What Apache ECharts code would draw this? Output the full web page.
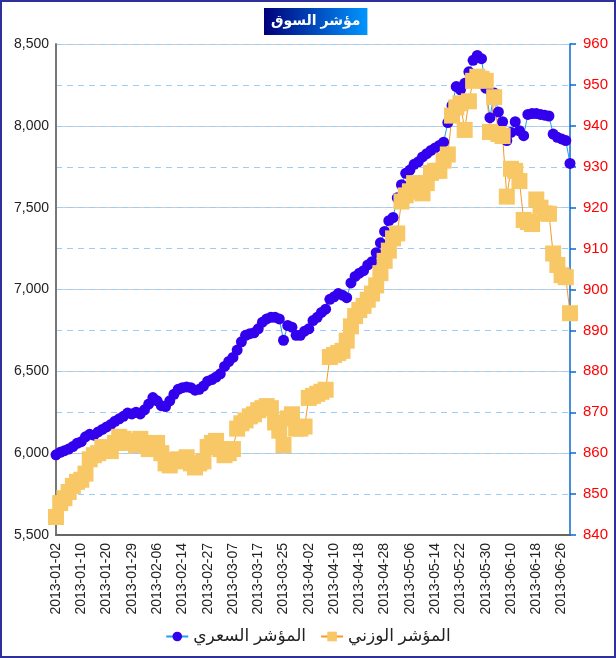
<!DOCTYPE html>
<html>
<head>
<meta charset="utf-8">
<script src="https://cdn.jsdelivr.net/npm/echarts@6.0.0/dist/echarts.min.js"></script>
<style>
  html, body { margin: 0; padding: 0; background: #fff; }
  #chartLine { width: 616px; height: 658px; }
</style>
</head>
<body>
<div id="chartLine"></div>
<script>
// trading days
var dates = [
  '2013-01-02','2013-01-03','2013-01-06','2013-01-07','2013-01-08','2013-01-09','2013-01-10',
  '2013-01-13','2013-01-14','2013-01-15','2013-01-16','2013-01-17','2013-01-20',
  '2013-01-21','2013-01-22','2013-01-23','2013-01-27','2013-01-28','2013-01-29',
  '2013-01-30','2013-01-31','2013-02-03','2013-02-04','2013-02-05','2013-02-06',
  '2013-02-07','2013-02-10','2013-02-11','2013-02-12','2013-02-13','2013-02-14',
  '2013-02-17','2013-02-18','2013-02-19','2013-02-20','2013-02-21','2013-02-27',
  '2013-02-28','2013-03-03','2013-03-04','2013-03-05','2013-03-06','2013-03-07',
  '2013-03-10','2013-03-11','2013-03-12','2013-03-13','2013-03-14','2013-03-17',
  '2013-03-18','2013-03-19','2013-03-20','2013-03-21','2013-03-24','2013-03-25',
  '2013-03-26','2013-03-27','2013-03-28','2013-03-31','2013-04-01','2013-04-02',
  '2013-04-03','2013-04-04','2013-04-07','2013-04-08','2013-04-09','2013-04-10',
  '2013-04-11','2013-04-14','2013-04-15','2013-04-16','2013-04-17','2013-04-18',
  '2013-04-21','2013-04-22','2013-04-23','2013-04-24','2013-04-25','2013-04-28',
  '2013-04-29','2013-04-30','2013-05-01','2013-05-02','2013-05-05','2013-05-06',
  '2013-05-07','2013-05-08','2013-05-09','2013-05-12','2013-05-13','2013-05-14',
  '2013-05-15','2013-05-16','2013-05-19','2013-05-20','2013-05-21','2013-05-22',
  '2013-05-23','2013-05-26','2013-05-27','2013-05-28','2013-05-29','2013-05-30',
  '2013-06-02','2013-06-03','2013-06-04','2013-06-05','2013-06-09','2013-06-10',
  '2013-06-11','2013-06-12','2013-06-13','2013-06-16','2013-06-17','2013-06-18',
  '2013-06-19','2013-06-20','2013-06-23','2013-06-24','2013-06-25','2013-06-26',
  '2013-06-27','2013-06-30'
];

// المؤشر السعري (left axis)
var priceIndex = [
  5990,6005,6015,6025,6040,6060,6070,6100,6115,6110,
  6130,6145,6160,6175,6195,6210,6225,6245,6240,6250,
  6240,6265,6300,6340,6320,6290,6285,6320,6360,6390,
  6400,6405,6400,6385,6390,6410,6440,6450,6465,6485,
  6530,6560,6585,6630,6680,6720,6730,6735,6760,6800,
  6820,6830,6830,6820,6690,6780,6770,6720,6720,6745,
  6760,6810,6830,6860,6880,6940,6955,6975,6965,6950,
  7040,7080,7100,7115,7150,7170,7225,7285,7355,7420,
  7440,7560,7640,7710,7730,7765,7780,7810,7830,7850,
  7865,7880,7900,8020,8125,8240,8220,8260,8330,8400,
  8430,8410,8230,8050,8200,8085,8025,7910,7960,8025,
  7970,7940,8070,8075,8075,8070,8065,8060,7950,7930,7920,7910,7770
];

// المؤشر الوزني (right axis)
var weightedIndex = [
  844.4,847.8,849,850.5,852,853,853.5,855,858.5,859.5,
  860,861.5,861,860.5,862.5,864,863.5,862.5,863,862,
  863.5,862.5,861,862,862.5,860,857.5,857,858.3,858.5,
  858,859,857.5,856.5,857.5,858,861.5,862.5,863,861,
  859.5,860,861,866,867.3,868,869,869.5,870.5,871,
  871.5,871,867.5,865.5,862,868.5,869.5,866,866,866.5,
  873.5,874,874.5,875,875.5,883.5,884,884.5,885,887.5,
  891,893.5,895,896,897.5,899,901,904,907,909.5,
  912.5,913.7,921.5,923,924,926,924,923.5,926,928.5,
  929,929,931.5,933,942.5,944.5,945.5,939,946,951,
  952,951.5,951,938.5,947,938,937.5,922.7,929.5,929,
  926.5,917,916.5,916,922,920,918.6,918.5,908.8,906,903.5,903,894.2
];

var seriesNames = ['المؤشر السعري', 'المؤشر الوزني'];
var chartTitle = 'مؤشر السوق';

var font = 'Arial, "Liberation Sans", "DejaVu Sans", sans-serif';
var chartLine = echarts.init(document.getElementById('chartLine'));

var option = {
  backgroundColor: '#fff',
  animation: false,
  textStyle: { fontFamily: font },
  title: {
    text: chartTitle,
    left: 264,
    top: 8,
    padding: [6, 7, 7, 7],
    backgroundColor: new echarts.graphic.LinearGradient(0, 0, 1, 0, [
      { offset: 0, color: '#00007a' },
      { offset: 1, color: '#0096ff' }
    ]),
    textStyle: { color: '#fff', fontSize: 14, fontWeight: 'bold', fontFamily: font }
  },
  graphic: [{
    type: 'rect',
    silent: true,
    z: -10,
    shape: { x: 1, y: 1, width: 614, height: 656 },
    style: { fill: null, stroke: '#30309a', lineWidth: 2 }
  }],
  legend: {
    data: seriesNames,
    bottom: 8,
    left: 'center',
    itemWidth: 22,
    itemHeight: 12,
    itemGap: 14,
    textStyle: { fontSize: 17, color: '#222', fontFamily: font }
  },
  grid: { left: 56, right: 46, top: 44, bottom: 123, containLabel: false },
  xAxis: {
    type: 'category',
    data: dates,
    boundaryGap: false,
    axisLine: { lineStyle: { color: '#666', width: 2 } },
    axisTick: { show: false },
    axisLabel: { interval: 5, rotate: 90, margin: 8, fontSize: 14, color: '#222' },
    splitLine: { show: false }
  },
  yAxis: [
    {
      type: 'value',
      min: 5500,
      max: 8500,
      interval: 500,
      position: 'left',
      axisLine: { show: true, lineStyle: { color: '#777', width: 2 } },
      axisTick: { show: false },
      axisLabel: {
        fontSize: 14, color: '#222', margin: 7,
        formatter: function (v) { return v.toLocaleString('en-US'); }
      },
      splitLine: { show: true, lineStyle: { color: '#cccccc', width: 1 } }
    },
    {
      type: 'value',
      min: 840,
      max: 960,
      interval: 10,
      position: 'right',
      axisLine: { show: true, lineStyle: { color: '#0a6ad2', width: 1.5 } },
      axisTick: { show: true, length: 6, lineStyle: { color: '#0a6ad2', width: 1.5 } },
      axisLabel: { fontSize: 15, color: '#ff0000', margin: 13 },
      splitLine: { show: true, lineStyle: { color: '#9cccf8', type: [6, 5], width: 1 } }
    }
  ],
  series: [
    {
      name: seriesNames[0],
      type: 'line',
      yAxisIndex: 0,
      data: priceIndex,
      symbol: 'circle',
      symbolSize: 11,
      showAllSymbol: true,
      itemStyle: { color: '#3300ee' },
      lineStyle: { color: '#1ea0ef', width: 1 }
    },
    {
      name: seriesNames[1],
      type: 'line',
      yAxisIndex: 1,
      data: weightedIndex,
      symbol: 'rect',
      symbolSize: 16,
      showAllSymbol: true,
      itemStyle: { color: '#f8c766' },
      lineStyle: { color: '#f59a2a', width: 1 }
    }
  ]
};

chartLine.setOption(option);
</script>
</body>
</html>
